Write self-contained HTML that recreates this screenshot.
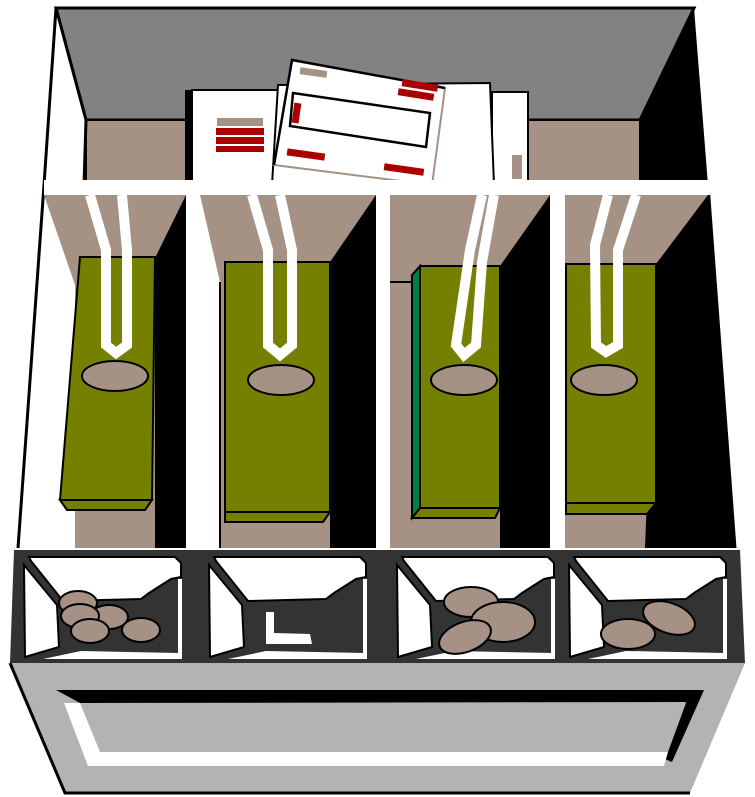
<!DOCTYPE html>
<html><head><meta charset="utf-8"><style>html,body{margin:0;padding:0;background:#fff}svg{display:block}</style></head>
<body>
<svg width="755" height="797" viewBox="0 0 755 797" xmlns="http://www.w3.org/2000/svg">
<defs>
<g id="cell">
  <rect x="0" y="0" width="162" height="106" fill="#333"/>
  <polygon points="8,2 154,2 160,8 160,22 150,24 128,38 120,44 42,46 10,6" fill="#fff" stroke="#000" stroke-width="2"/>
  <polygon points="3,10 36,50 38,92 4,102" fill="#fff" stroke="#000" stroke-width="2"/>
  <polygon points="22,104 158,104 158,98 60,96" fill="#fff"/>
  <rect x="157" y="24" width="4" height="80" fill="#fff"/>
</g>
</defs>
<!-- back wall -->
<polygon points="56,8 694,8 640,120 86,120" fill="#828282" stroke="#000" stroke-width="3"/>
<rect x="86" y="120" width="554" height="65" fill="#a69185" stroke="#000" stroke-width="2"/>
<!-- side walls -->
<polygon points="56,8 86,120 84,185 44,185" fill="#fff" stroke="#000" stroke-width="3"/>
<polygon points="694,8 708,185 640,185 640,120" fill="#000"/>
<!-- receipts -->
<polygon points="185,90 192,90 192,185 185,185" fill="#000"/>
<rect x="192" y="90" width="90" height="95" fill="#fff" stroke="#000" stroke-width="2"/>
<rect x="217" y="118" width="46" height="8" fill="#a69185"/>
<rect x="216" y="128" width="48" height="7" fill="#a00"/>
<rect x="216" y="137" width="48" height="7" fill="#a00"/>
<rect x="216" y="146" width="48" height="6" fill="#a00"/>
<rect x="492" y="92" width="36" height="93" fill="#fff" stroke="#000" stroke-width="2"/>
<rect x="512" y="155" width="10" height="24" fill="#a69185"/>
<polygon points="278,85 490,83 494,185 272,185" fill="#fff" stroke="#000" stroke-width="2"/>
<polygon points="292,60 445,88 432,185 274,165" fill="#fff" stroke="#a69185" stroke-width="2"/>
<polyline points="274,165 292,60 445,88" fill="none" stroke="#000" stroke-width="2.5"/>
<polygon points="293,93 430,113 426,147 290,126" fill="#fff" stroke="#000" stroke-width="2.5"/>
<rect x="300" y="69" width="27" height="7" fill="#a69185" transform="rotate(8 313 72)"/>
<rect x="402" y="82" width="36" height="7" fill="#a00" transform="rotate(9 420 85)"/>
<rect x="398" y="91" width="36" height="7" fill="#a00" transform="rotate(9 416 94)"/>
<rect x="293" y="103" width="7" height="20" fill="#a00" transform="rotate(8 296 113)"/>
<rect x="287" y="151" width="38" height="7" fill="#a00" transform="rotate(8 306 154)"/>
<rect x="384" y="166" width="40" height="7" fill="#a00" transform="rotate(8 404 169)"/>
<!-- lower bin area backgrounds -->
<polygon points="44,195 708,195 735,548 18,548" fill="#fff"/>
<line x1="44" y1="185" x2="18" y2="548" stroke="#000" stroke-width="3"/>
<line x1="708" y1="185" x2="735" y2="548" stroke="#000" stroke-width="3"/>
<!-- comp 1 -->
<polygon points="44,195 186,195 186,548 75,548 75,285" fill="#a69185"/>
<polygon points="186,195 186,548 155,548 155,258" fill="#000"/>
<polygon points="80,257 155,257 152,500 60,500" fill="#758000" stroke="#000" stroke-width="2"/>
<polygon points="60,500 152,500 145,510 67,510" fill="#758000" stroke="#000" stroke-width="2"/>
<rect x="75" y="511" width="70" height="37" fill="#a69185"/>
<!-- comp 2 -->
<polygon points="200,195 376,195 376,548 220,548 220,282" fill="#a69185"/>
<polygon points="376,195 376,548 330,548 330,262" fill="#000"/>
<rect x="225" y="262" width="105" height="250" fill="#758000" stroke="#000" stroke-width="2"/>
<polygon points="225,512 330,512 323,522 225,522" fill="#758000" stroke="#000" stroke-width="2"/>
<line x1="220" y1="282" x2="220" y2="548" stroke="#000" stroke-width="2"/>
<!-- comp 3 -->
<rect x="390" y="195" width="160" height="353" fill="#a69185"/>
<polygon points="550,195 550,548 500,548 500,266" fill="#000"/>
<line x1="390" y1="282" x2="420" y2="282" stroke="#000" stroke-width="2"/>
<polygon points="412,275 420,266 420,508 412,518" fill="#008040" stroke="#000" stroke-width="2"/>
<rect x="420" y="266" width="80" height="242" fill="#758000" stroke="#000" stroke-width="2"/>
<polygon points="412,518 420,508 500,508 495,518" fill="#758000" stroke="#000" stroke-width="2"/>
<!-- comp 4 -->
<polygon points="565,195 708,195 720,548 565,548" fill="#a69185"/>
<polygon points="708,195 735,548 645,548 656,264" fill="#000"/>
<rect x="566" y="264" width="90" height="239" fill="#758000" stroke="#000" stroke-width="2"/>
<polygon points="566,503 656,503 647,514 566,514" fill="#758000" stroke="#000" stroke-width="2"/>
<!-- white bar + dividers -->
<rect x="44" y="180" width="666" height="15" fill="#fff"/>
<rect x="186" y="195" width="14" height="353" fill="#fff"/>
<rect x="376" y="195" width="14" height="353" fill="#fff"/>
<rect x="550" y="195" width="15" height="353" fill="#fff"/>
<!-- clips -->
<g fill="none" stroke="#fff" stroke-width="10" stroke-linejoin="miter">
<polyline points="90,195 106,250 106,345 116,353 127,345 127,250 122,195"/>
<polyline points="252,195 268,250 268,345 280,355 292,345 292,250 280,195"/>
<polyline points="482,195 470,250 456,345 464,355 476,345 482,262 494,195"/>
<polyline points="608,195 595,245 596,345 606,352 618,345 618,250 636,195"/>
</g>
<g fill="#a69185" stroke="#000" stroke-width="2">
<ellipse cx="115" cy="376" rx="33" ry="15"/>
<ellipse cx="281" cy="380" rx="33" ry="15"/>
<ellipse cx="464" cy="380" rx="33" ry="15"/>
<ellipse cx="604" cy="380" rx="33" ry="15"/>
</g>
<!-- coin tray -->
<polygon points="14,550 740,550 745,663 10,663" fill="#333"/>
<use href="#cell" x="21" y="555"/>
<use href="#cell" x="206" y="555"/>
<use href="#cell" x="394" y="555"/>
<use href="#cell" x="566" y="555"/>
<path d="M266,612 L274,612 L274,633 L310,634 L312,644 L266,644 Z" fill="#fff"/>
<g fill="#a69185" stroke="#000" stroke-width="2">
<ellipse cx="78" cy="603" rx="19" ry="12"/>
<ellipse cx="109" cy="617" rx="19" ry="12"/>
<ellipse cx="80" cy="616" rx="19" ry="12"/>
<ellipse cx="90" cy="631" rx="19" ry="12"/>
<ellipse cx="141" cy="630" rx="19" ry="12"/>
<ellipse cx="471" cy="602" rx="27" ry="15"/>
<ellipse cx="503" cy="622" rx="32" ry="20"/>
<ellipse cx="465" cy="637" rx="27" ry="15" transform="rotate(-20 465 637)"/>
<ellipse cx="669" cy="618" rx="27" ry="15" transform="rotate(20 669 618)"/>
<ellipse cx="628" cy="634" rx="27" ry="15"/>
</g>
<!-- front -->
<polygon points="10,663 745,663 690,793 65,793" fill="#b3b3b3"/>
<polyline points="10,663 65,793 690,793" fill="none" stroke="#000" stroke-width="3"/>
<polygon points="56,690 704,690 672,762 660,757 686,702 80,703" fill="#000"/>
<polygon points="80,703 686,703 668,752 100,752" fill="#b3b3b3"/>
<polygon points="64,703 80,703 100,752 668,752 664,766 88,766" fill="#fff"/>
</svg>
</body></html>
